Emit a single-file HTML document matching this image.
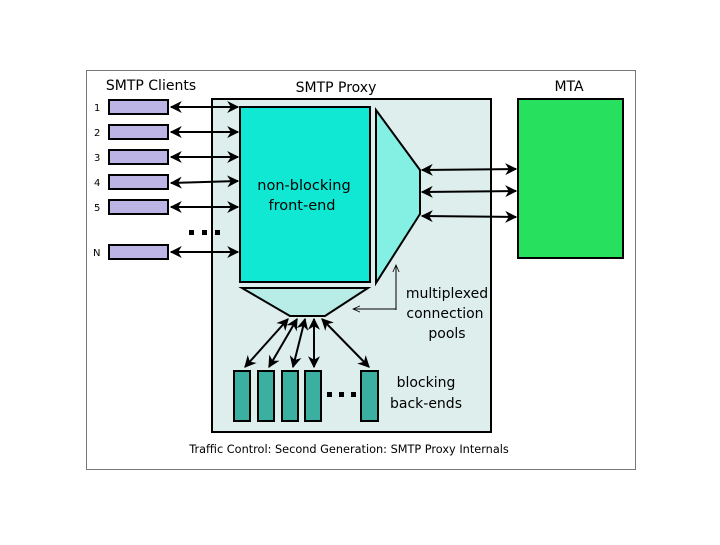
<!DOCTYPE html>
<html><head><style>body{margin:0;background:#fff}</style></head><body>
<svg width="720" height="540" xmlns="http://www.w3.org/2000/svg" font-family="DejaVu Sans, Liberation Sans, sans-serif">
<defs>
<marker id="a" viewBox="0 0 10 10" refX="9" refY="5" markerWidth="6" markerHeight="6" orient="auto-start-reverse"><path d="M0,0 L10,5 L0,10 L3,5 z" fill="#000"/></marker>
<marker id="t" viewBox="0 0 10 10" refX="9" refY="5" markerWidth="8" markerHeight="8" orient="auto"><path d="M0,1 L9,5 L0,9" fill="none" stroke="#000" stroke-width="1"/></marker>
</defs>
<rect x="86.5" y="70.5" width="549" height="399" fill="#fff" stroke="#777"/>
<rect x="212" y="99" width="279" height="333" fill="#deeeec" stroke="#000" stroke-width="2"/>
<rect x="240" y="107" width="130" height="175" fill="#10e8d4" stroke="#000" stroke-width="2"/>
<polygon points="376,110 420,170 420,214 376,283" fill="#84f0e4" stroke="#000" stroke-width="2"/>
<polygon points="242,288 368,288 325,316 290,316" fill="#b8ece6" stroke="#000" stroke-width="2"/>
<rect x="518" y="99" width="105" height="159" fill="#26e05e" stroke="#000" stroke-width="2"/>
<g font-size="14" fill="#000">
<text x="151" y="90" text-anchor="middle">SMTP Clients</text>
<text x="336" y="92" text-anchor="middle">SMTP Proxy</text>
<text x="569" y="91" text-anchor="middle">MTA</text>
<text x="304" y="190" text-anchor="middle" font-size="14.5">non-blocking</text>
<text x="302" y="210" text-anchor="middle" font-size="14.5">front-end</text>
<text x="447" y="298" text-anchor="middle">multiplexed</text>
<text x="445" y="318" text-anchor="middle">connection</text>
<text x="447" y="338" text-anchor="middle">pools</text>
<text x="426" y="387" text-anchor="middle">blocking</text>
<text x="426" y="408" text-anchor="middle">back-ends</text>
</g>
<text x="349" y="453" font-size="11.3" text-anchor="middle">Traffic Control: Second Generation: SMTP Proxy Internals</text>
<g font-size="10">
<text x="94" y="111">1</text><text x="94" y="136">2</text><text x="94" y="161">3</text><text x="94" y="186">4</text><text x="94" y="211">5</text><text x="93" y="256">N</text>
</g>
<g fill="#bcb4e4" stroke="#000" stroke-width="2">
<rect x="109" y="100" width="59" height="14"/><rect x="109" y="125" width="59" height="14"/><rect x="109" y="150" width="59" height="14"/><rect x="109" y="175" width="59" height="14"/><rect x="109" y="200" width="59" height="14"/><rect x="109" y="245" width="59" height="14"/>
</g>
<g stroke="#000" stroke-width="2" marker-start="url(#a)" marker-end="url(#a)">
<line x1="171" y1="107" x2="238" y2="107"/><line x1="171" y1="132" x2="238" y2="132"/><line x1="171" y1="157" x2="238" y2="157"/><line x1="171" y1="183" x2="238" y2="181"/><line x1="171" y1="207" x2="238" y2="207"/><line x1="171" y1="252" x2="238" y2="252"/>
<line x1="422" y1="170" x2="516" y2="169"/><line x1="422" y1="192" x2="516" y2="191"/><line x1="422" y1="216" x2="516" y2="217"/>
<line x1="288" y1="319" x2="245" y2="367"/><line x1="297" y1="319" x2="269" y2="367"/><line x1="305" y1="319" x2="293" y2="367"/><line x1="314" y1="319" x2="314" y2="367"/><line x1="322" y1="319" x2="369" y2="367"/>
</g>
<g fill="#000"><rect x="189" y="230" width="5" height="5"/><rect x="202" y="230" width="5" height="5"/><rect x="215" y="230" width="5" height="5"/>
<rect x="327" y="392" width="5" height="5"/><rect x="339" y="392" width="5" height="5"/><rect x="351" y="392" width="5" height="5"/></g>
<g fill="#3cb0a0" stroke="#000" stroke-width="2">
<rect x="234" y="371" width="16" height="50"/><rect x="258" y="371" width="16" height="50"/><rect x="282" y="371" width="16" height="50"/><rect x="305" y="371" width="16" height="50"/><rect x="361" y="371" width="17" height="50"/>
</g>
<g stroke="#000" stroke-width="1" fill="none">
<line x1="396" y1="310" x2="396" y2="265" marker-end="url(#t)"/>
<line x1="396" y1="309" x2="353" y2="309" marker-end="url(#t)"/>
</g>
</svg>
</body></html>
